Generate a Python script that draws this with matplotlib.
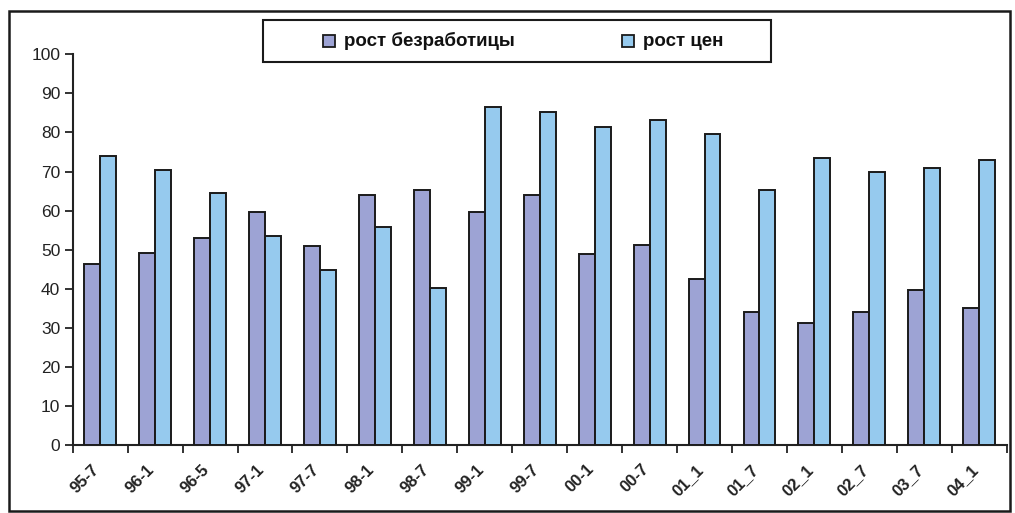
import matplotlib
matplotlib.use("Agg")
import matplotlib.pyplot as plt
import numpy as np
from matplotlib.patches import Rectangle

categories = ["95-7", "96-1", "96-5", "97-1", "97-7", "98-1", "98-7", "99-1", "99-7",
              "00-1", "00-7", "01_1", "01_7", "02_1", "02_7", "03_7", "04_1"]
unemployment = [46.4, 49.2, 53.0, 59.6, 51.0, 64.0, 65.3, 59.6, 64.0,
                48.8, 51.1, 42.6, 34.0, 31.2, 34.0, 39.8, 35.0]
prices = [73.9, 70.5, 64.4, 53.5, 44.9, 55.8, 40.2, 86.5, 85.2,
          81.4, 83.2, 79.5, 65.3, 73.4, 70.0, 71.0, 72.9]
series_names = ["рост безработицы", "рост цен"]
yticks = list(range(0, 101, 10))

W, H = 1015, 513
plt.rcParams['font.family'] = ['Liberation Sans', 'DejaVu Sans']
fig = plt.figure(figsize=(W / 100, H / 100), dpi=100)

ax = fig.add_axes([72.7 / W, 1 - 445 / H, (1006.7 - 72.7) / W, (445 - 54.3) / H])

x = np.arange(len(categories))
bw = 0.29
colors = ["#9DA3D4", "#96CAEE"]
ax.bar(x - bw / 2, unemployment, bw, color=colors[0], edgecolor="#1a1a1a", linewidth=1.4, zorder=3)
ax.bar(x + bw / 2, prices, bw, color=colors[1], edgecolor="#1a1a1a", linewidth=1.4, zorder=3)

ax.set_xlim(-0.5, len(categories) - 0.5)
ax.set_ylim(0, 100)
ax.set_yticks(yticks)
ax.set_yticklabels([str(v) for v in yticks], fontsize=12.5, color="#222222")
ax.set_xticks(np.arange(len(categories) + 1) - 0.5)
ax.set_xticklabels([])
# labels anchored slightly left of each category centre, as in the reference
ax.set_xticks(x - 0.16, minor=True)
ax.set_xticklabels(categories, minor=True, rotation=45, ha="right", va="top",
                   fontsize=12, fontweight="bold", color="#222222",
                   rotation_mode="anchor")
ax.tick_params(axis="x", which="minor", length=0, pad=12)
ax.tick_params(axis="x", which="major", length=6, width=1.3, direction="out", color="#222222")
ax.tick_params(axis="y", length=6, width=1.3, direction="out", color="#222222", pad=3)
for s in ["top", "right"]:
    ax.spines[s].set_visible(False)
for s in ["left", "bottom"]:
    ax.spines[s].set_linewidth(1.5)
    ax.spines[s].set_color("#222222")

def fx(px):
    return px / W

def fy(py):
    return 1 - py / H

# legend box (drawn manually to match the reference layout)
fig.patches.append(Rectangle((fx(263), fy(62)), fx(771) - fx(263), fy(20) - fy(62),
                             transform=fig.transFigure, fill=False, edgecolor="#1a1a1a", linewidth=1.5))
for mx, tx, name, col in [(323, 344, series_names[0], colors[0]), (622, 643, series_names[1], colors[1])]:
    fig.patches.append(Rectangle((fx(mx), fy(47)), 12 / W, 12 / H, transform=fig.transFigure,
                                 facecolor=col, edgecolor="#1a1a1a", linewidth=1.3))
    fig.text(fx(tx), fy(41), name, fontsize=13.5, fontweight="bold", va="center", ha="left", color="#111111")

# outer frame
fig.patches.append(Rectangle((fx(9), fy(511)), fx(1010) - fx(9), fy(11) - fy(511),
                             transform=fig.transFigure, fill=False, edgecolor="#1a1a1a", linewidth=1.8))

fig.savefig("out.png", dpi=100)
